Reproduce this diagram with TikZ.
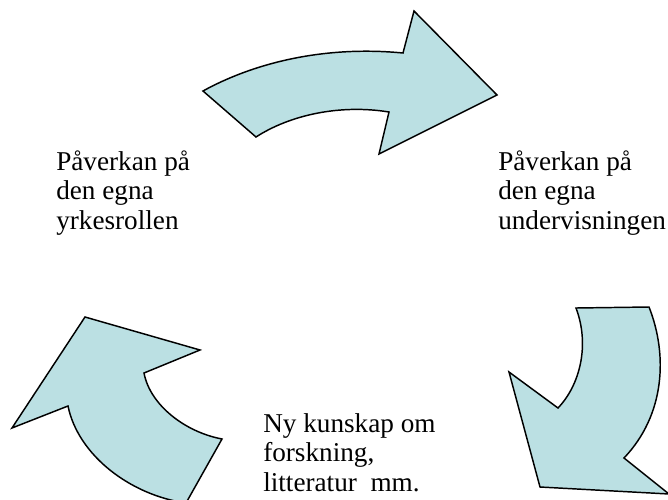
\documentclass[tikz,border=0pt]{standalone}
\usepackage{fontspec}
\setmainfont{Liberation Serif}
\usepackage{xcolor}
\usetikzlibrary{positioning}

\definecolor{arrowfill}{RGB}{187,224,227}

\begin{document}
\begin{tikzpicture}[x=0.75pt,y=-0.75pt,line join=miter]
\tikzstyle{blockarrow}=[draw=black,line width=1.1pt,fill=arrowfill]
\tikzstyle{lbl}=[align=left,anchor=base west,inner sep=0pt,font=\fontsize{20.4}{22}\selectfont]
\useasboundingbox (0,0) rectangle (668,500);
\clip (0,0) rectangle (668,500);
% top arrow, pointing right
\draw[blockarrow] (203,91) .. controls (250,65) and (320,45) .. (403,53)
  -- (414,11) -- (497,95) -- (379,154) -- (389,112)
  .. controls (340,104) and (290,115) .. (256,137) -- cycle;
% right arrow, pointing down
\draw[blockarrow] (576,308) -- (649,307)
  .. controls (668,355) and (665,415) .. (624,458)
  -- (669,494) -- (540,487) -- (509,372) -- (558,408)
  .. controls (580,385) and (590,345) .. (576,308) -- cycle;
% left arrow, pointing up
\draw[blockarrow] (85,317) -- (200,350) -- (144,373)
  .. controls (150,405) and (185,432) .. (222,439)
  -- (186,503) .. controls (130,495) and (78,455) .. (68,406)
  -- (12,428) -- cycle;
\node[lbl] (yrkes) at (56,229) {Påverkan på\\den egna\\yrkesrollen};
\node[lbl] (underv) at (498,229) {Påverkan på\\den egna\\undervisningen};
\node[lbl] (kunskap) at (263,491) {Ny kunskap om\\forskning,\\litteratur\ \ mm.};
\end{tikzpicture}
\end{document}
